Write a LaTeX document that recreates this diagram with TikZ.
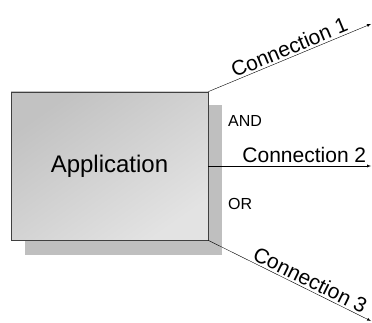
\documentclass[tikz,border=0pt]{standalone}
\usepackage{fontspec}
\setmainfont{Liberation Sans}

\begin{document}
\begin{tikzpicture} [x=1pt, y=-1pt]
     \useasboundingbox (0,0) rectangle (372,323);

     % 影
     \fill [black!25] (25,105) rectangle (222,255);

     % 箱
     \node [draw=black!75, thick, minimum width=197pt, minimum height=148pt, inner sep=0pt,
            top color=black!24, bottom color=black!11, shading angle=35] (app) at (109.5,166)
            {\fontsize{24}{28}\selectfont Application};

     % 接続先
     \coordinate (e1) at (371,24);
     \coordinate (e2) at (371,166);
     \coordinate (e3) at (371,321);

     % 接続
     \draw [-latex, thin] (app.north east) -- (e1) node [pos=0.52, sloped, above, inner sep=2pt]{\fontsize{21}{24}\selectfont Connection 1};
     \draw [-latex, thin] (app.east) -- (app.east -| e2) node [pos=0.59, above, inner sep=3pt]{\fontsize{21}{24}\selectfont Connection 2};
     \draw [-latex, thin] (app.south east) -- (e3) node [pos=0.6, sloped, above, inner sep=2pt]{\fontsize{21}{24}\selectfont Connection 3};

     % 説明
     \node [anchor=west, inner sep=0pt] (and) at (228,121) {\fontsize{16}{18}\selectfont AND};
     \node [anchor=west, inner sep=0pt] (or) at (228,204) {\fontsize{16}{18}\selectfont OR};
\end{tikzpicture}
\end{document}
